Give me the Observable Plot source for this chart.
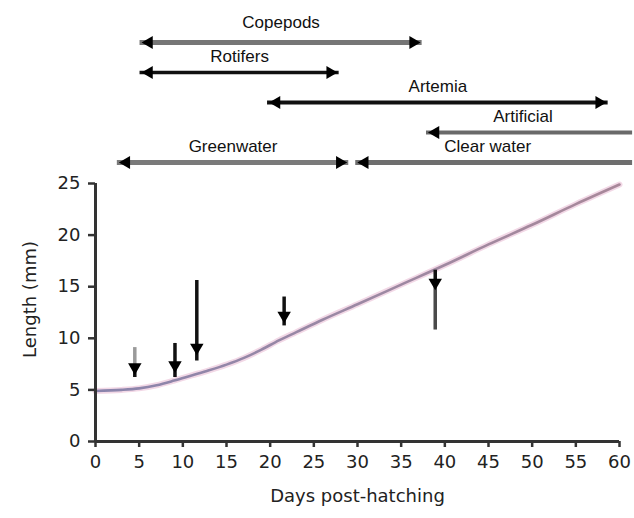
<!DOCTYPE html>
<html><head><meta charset="utf-8">
<script src="https://cdn.jsdelivr.net/npm/d3@7"></script>
<script src="https://cdn.jsdelivr.net/npm/@observablehq/plot@0.6"></script>
<style>
body{margin:0;background:#fff;}
#chart svg{display:block;}
</style></head><body><div id="chart"></div>
<script>
// Feeding / water regime periods (days post-hatching)
const feedNames = ["Copepods", "Rotifers", "Artemia", "Artificial", "Greenwater", "Clear water"];
const feedRow   = ["Copepods", "Rotifers", "Artemia", "Artificial", "Water", "Water"];
const feedStart = [5.1, 5.1, 19.7, 37.9, 2.5, 29.8];
const feedEnd   = [37.4, 27.9, 58.7, 61.5, 29.0, 61.5];
const feedOpen  = [false, false, false, true, false, true];

// Measured lengths (mean with range)
const sampleDay  = [4.5, 9.1, 11.6, 21.6, 38.9];
const sampleMean = [7.2, 7.4, 9.1, 12.2, 15.4];
const sampleLow  = [6.2, 6.2, 7.8, 11.2, 10.8];
const sampleHigh = [9.1, 9.5, 15.6, 14.0, 16.6];

// Growth curve
const curveDay = [0, 3, 5, 7, 9, 11, 13, 15, 17, 19, 21, 23, 26, 30, 35, 40, 45, 50, 55, 60];
const curveLen = [4.9, 5.0, 5.15, 5.45, 5.9, 6.4, 6.9, 7.45, 8.1, 8.9, 9.8, 10.6, 11.8, 13.3, 15.2, 17.1, 19.1, 21.0, 23.0, 24.9];

const xTicks = [0, 5, 10, 15, 20, 25, 30, 35, 40, 45, 50, 55, 60];
const yTicks = [0, 5, 10, 15, 20, 25];
const rows = ["Copepods", "Rotifers", "Artemia", "Artificial", "Water"];

const feeds = feedNames.map((n, i) => ({
  name: n, row: feedRow[i], start: feedStart[i], end: feedEnd[i], open: feedOpen[i],
  mid: (feedStart[i] + Math.min(feedEnd[i], 60)) / 2
}));
const lineColor = {"Copepods": "#767676", "Rotifers": "#111", "Artemia": "#111", "Artificial": "#6a6a6a", "Greenwater": "#7a7a7a", "Clear water": "#6e6e6e"};
const lineWidth = {"Copepods": 5, "Rotifers": 3.5, "Artemia": 4, "Artificial": 4, "Greenwater": 5, "Clear water": 5};

const samples = sampleDay.map((d, i) => ({idx: i, day: d, mean: sampleMean[i], low: sampleLow[i], high: sampleHigh[i]}));
const curve = curveDay.map((d, i) => ({day: d, len: curveLen[i]}));
const n = samples.length;
const upperColor = d => d.idx === 0 ? "#9a9a9a" : "#111";
const lowerColor = d => d.idx === n - 1 ? "#4a4a4a" : "#111";

const W = 634, ML = 95, MR = 15;

const feedPlot = Plot.plot({
  width: W, height: 170,
  marginLeft: ML, marginRight: MR, marginTop: 41, marginBottom: 7,
  style: {fontFamily: "Liberation Sans, Arial, sans-serif", fontSize: "17px", overflow: "visible"},
  x: {domain: [0, 60], axis: null},
  y: {type: "point", domain: rows, padding: 0, axis: null},
  marks: [
    Plot.ruleY(feeds, {y: "row", x1: "start", x2: "end", stroke: d => lineColor[d.name], strokeWidth: d => lineWidth[d.name]}),
    Plot.dot(feeds, {x: "start", y: "row", dx: 9, symbol: "triangle", rotate: -90, r: 4.8, fill: "#000", stroke: "none"}),
    Plot.dot(feeds.filter(d => !d.open), {x: "end", y: "row", dx: -9, symbol: "triangle", rotate: 90, r: 4.8, fill: "#000", stroke: "none"}),
    Plot.text(feeds.filter(d => d.row === "Copepods"), {x: "mid", y: "row", text: "name", dy: -20, fill: "#111", fontSize: 17}),
    Plot.text(feeds.filter(d => d.row !== "Copepods"), {x: "mid", y: "row", text: "name", dy: -16, fill: "#111", fontSize: 17})
  ]
});

const grad = () => {
  const ns = "http://www.w3.org/2000/svg";
  const defs = document.createElementNS(ns, "defs");
  const lg = document.createElementNS(ns, "linearGradient");
  lg.setAttribute("id", "curveGrad");
  [["0%", "#8a84ac"], ["45%", "#9a88a4"], ["100%", "#a8889a"]].forEach(([o, c]) => {
    const s = document.createElementNS(ns, "stop");
    s.setAttribute("offset", o); s.setAttribute("stop-color", c);
    lg.appendChild(s);
  });
  defs.appendChild(lg);
  return defs;
};

const mainPlot = Plot.plot({
  width: W, height: 348,
  marginLeft: ML, marginRight: MR, marginTop: 13, marginBottom: 77,
  style: {fontFamily: "DejaVu Sans, sans-serif", fontSize: "18px", color: "#222", overflow: "visible"},
  x: {domain: [0, 60]},
  y: {domain: [0, 25]},
  marks: [
    grad,
    Plot.line(curve, {x: "day", y: "len", stroke: "#f2d8e6", strokeWidth: 6, curve: "monotone-x"}),
    Plot.line(curve, {x: "day", y: "len", stroke: "url(#curveGrad)", strokeWidth: 2.6, curve: "monotone-x"}),
    Plot.ruleX(samples, {x: "day", y1: "mean", y2: "high", stroke: upperColor, strokeWidth: 3.5}),
    Plot.ruleX(samples, {x: "day", y1: "low", y2: "mean", stroke: lowerColor, strokeWidth: 3.5}),
    Plot.dot(samples, {x: "day", y: "mean", symbol: "triangle", rotate: 180, r: 5, fill: "#000", stroke: "none"}),
    Plot.axisX({ticks: xTicks, tickSize: 6, tickPadding: 8, stroke: "#333", strokeWidth: 2.5, label: null, fontSize: 18}),
    Plot.axisY({ticks: yTicks, tickSize: 7, tickPadding: 8, stroke: "#333", strokeWidth: 2.5, label: null, fontSize: 18}),
    Plot.text(["Days post-hatching"], {frameAnchor: "bottom", dy: 60, text: d => d, fontSize: 18, letterSpacing: "1.7px", fill: "#222"}),
    Plot.text(["Length (mm)"], {frameAnchor: "left", dx: -65, dy: -13, rotate: -90, textAnchor: "middle", text: d => d, fontSize: 18, letterSpacing: "1px", fill: "#222"}),
    Plot.ruleX([0], {stroke: "#333", strokeWidth: 3}),
    Plot.ruleY([0], {stroke: "#333", strokeWidth: 3})
  ]
});

const el = document.getElementById("chart");
el.appendChild(feedPlot);
el.appendChild(mainPlot);
</script></body></html>
